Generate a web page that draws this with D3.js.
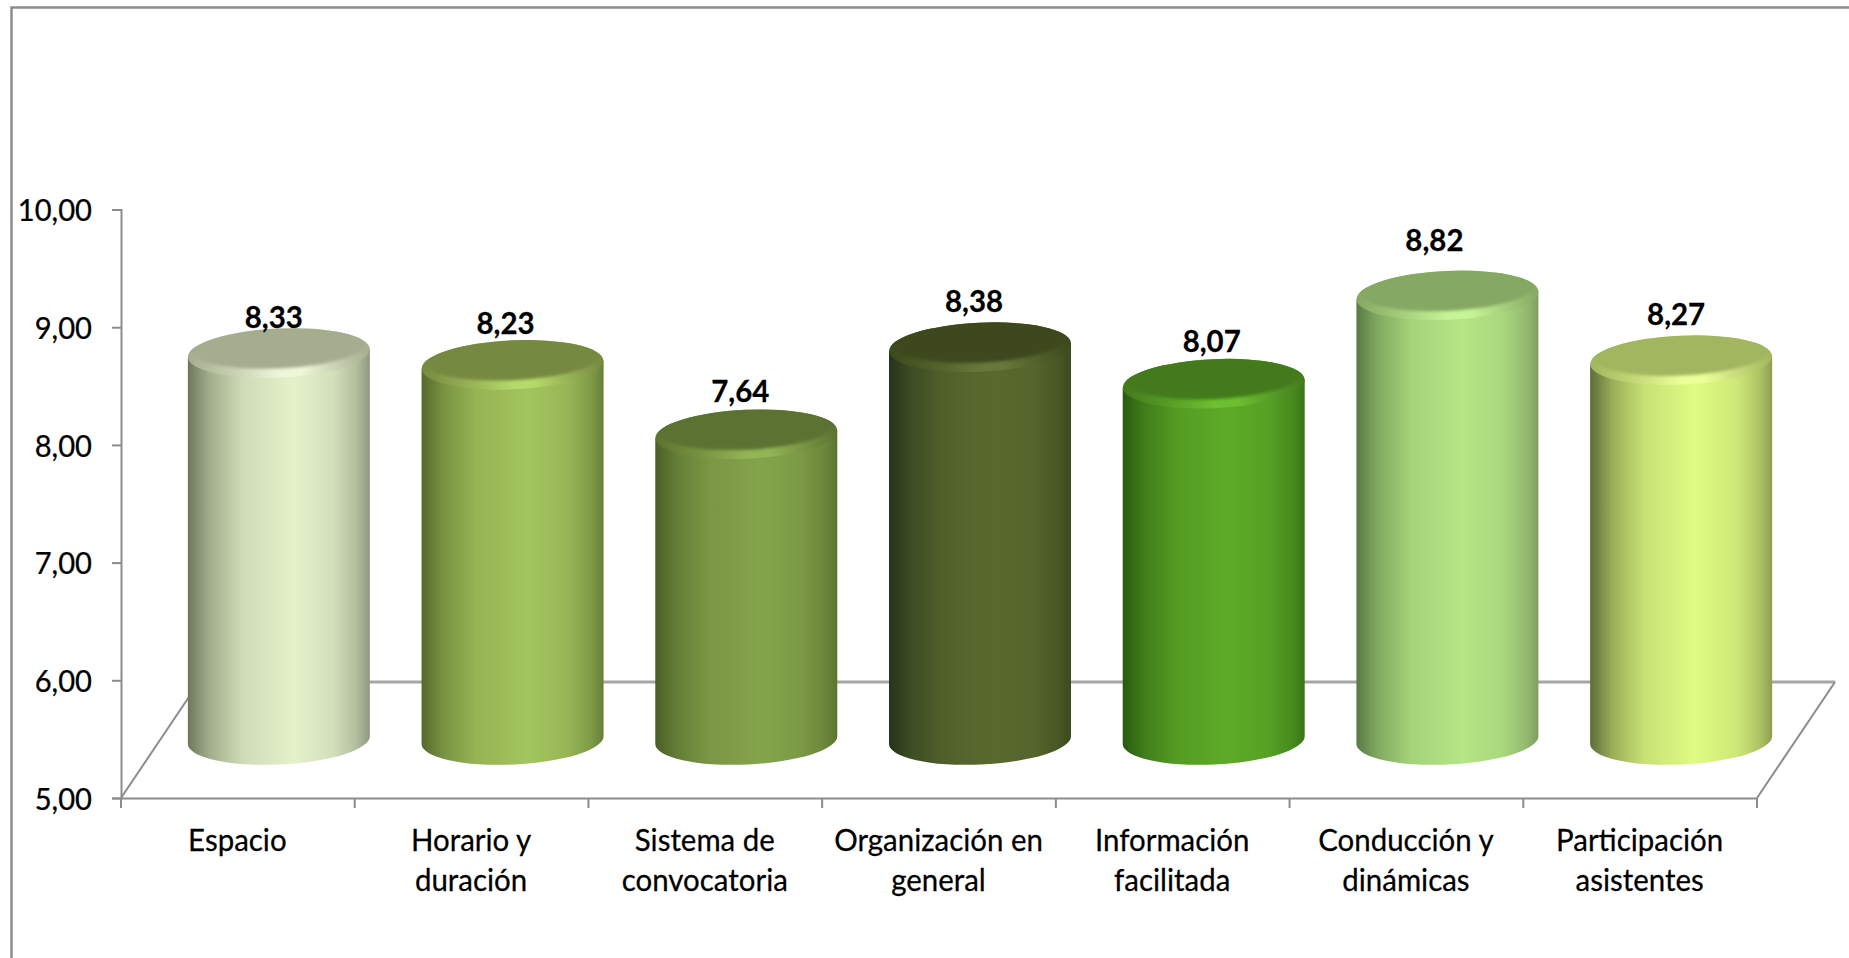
<!DOCTYPE html>
<html><head><meta charset="utf-8">
<script src="https://cdn.jsdelivr.net/npm/d3@7"></script>
<style>html,body{margin:0;padding:0;background:#fff;overflow:hidden}svg{display:block}
text{font-family:Lato,"Open Sans",sans-serif;fill:#000;stroke:#000;stroke-width:.25px;transform-box:fill-box;transform:scaleX(.95);transform-origin:center}
.tick text{transform:scaleX(.94);transform-origin:right center}</style>
</head><body><svg id="c" width="1849" height="958"></svg>
<script>
const categories=[["Espacio"],["Horario y","duración"],["Sistema de","convocatoria"],["Organización en","general"],["Información","facilitada"],["Conducción y","dinámicas"],["Participación","asistentes"]];
const values=[8.33,8.23,7.64,8.38,8.07,8.82,8.27];
const valueLabels=["8,33","8,23","7,64","8,38","8,07","8,82","8,27"];
const yTicks=[5,6,7,8,9,10];
const bright=["#e4f1c9","#a3c55d","#84a44b","#5a6a2e","#5dab27","#b5e685","#dffc82"];
const leftDark=["#6e775c","#55692c","#4b5e26","#26331a","#295a10","#587a44","#5f6c37"];
const rightDark=["#8f9880","#667f38","#5a7430","#3c4a1e","#3a7517","#7f9f61","#8f9e50"];
const topFill=["#a4ad8e","#76893f","#5c7230","#3c491c","#427a1c","#85a863","#a1b65e"];
const rimLight=["#eef6d8","#b5d96a","#94b555","#68783a","#6cc030","#c6f596","#ecff98"];
// manual placement of the value labels relative to their bars
const labelNudgeX=[1,-1,0,0,4,-7,1];
const labelNudgeY=[7,2,0,-3,1,-12,-3];

const axisX0=121,axisX1=1757,y0=798,y1=209.5;
const depthX=78,depthY=116,grey="#8c8c8c";
const svg=d3.select("#c");
const y=d3.scaleLinear().domain([5,10]).range([y0,y1]);
const idx=d3.range(categories.length);
const x=d3.scaleBand().domain(idx).range([axisX0,axisX1]);
const barW=182,rx=barW/2,ry=24.5,baseLift=58,topLift=53,shiftX=41,tiltDeg=-2.6;
const tiltDy=Math.sin(-tiltDeg*Math.PI/180)*rx;

const cx=i=>x(i)+x.bandwidth()/2+shiftX;
const topY=i=>y(values[i])-topLift;
const baseY=y(5)-baseLift;
const tilt=i=>`rotate(${tiltDeg} ${cx(i)} ${topY(i)})`;

const defs=svg.append("defs");
idx.forEach(i=>{
  const g=defs.append("linearGradient").attr("id","b"+i);
  [[0,leftDark[i]],[.12,d3.interpolateRgb(leftDark[i],bright[i])(.45)],[.3,d3.interpolateRgb(leftDark[i],bright[i])(.82)],[.58,bright[i]],[.8,d3.interpolateRgb(rightDark[i],bright[i])(.8)],[.93,d3.interpolateRgb(rightDark[i],bright[i])(.4)],[1,rightDark[i]]]
    .forEach(s=>g.append("stop").attr("offset",s[0]).attr("stop-color",s[1]));
  const r=defs.append("linearGradient").attr("id","r"+i);
  [[0,topFill[i]],[.5,rimLight[i]],[.62,rimLight[i]],[1,topFill[i]]]
    .forEach(s=>r.append("stop").attr("offset",s[0]).attr("stop-color",s[1]));
  defs.append("clipPath").attr("id","t"+i).append("ellipse").attr("cx",cx(i)).attr("cy",topY(i)).attr("rx",rx).attr("ry",ry);
});
const soft=defs.append("filter").attr("id","soft").attr("x","-5%").attr("y","-10%").attr("width","110%").attr("height","120%");
soft.append("feGaussianBlur").attr("stdDeviation",1.6);

// frame
svg.append("path").attr("d",`M11.5,958V7.5H1849`).attr("fill","none").attr("stroke",grey).attr("stroke-width",2.5);

// floor
const fl=svg.append("g").attr("fill","none");
fl.append("path").attr("stroke-width",3).attr("stroke","#a6a6a6").attr("d",`M${axisX0+depthX-8},${y0-depthY}H${axisX1+depthX}`);
fl.append("path").attr("stroke-width",2).attr("stroke",grey).attr("d",`M${axisX0},${y0}L${axisX0+depthX},${y0-depthY}`);
fl.append("path").attr("stroke-width",2).attr("stroke",grey).attr("d",`M${axisX1},${y0}L${axisX1+depthX},${y0-depthY}`);

// axes
const yAxis=svg.append("g").attr("transform",`translate(${axisX0},0)`).call(d3.axisLeft(y).tickValues(yTicks).tickSize(9).tickPadding(20).tickFormat(d=>d3.format(".2f")(d).replace(".",",")));
yAxis.selectAll("path,line").attr("stroke",grey).attr("stroke-width",2);
yAxis.selectAll("text").attr("font-size",31).attr("dy","0.36em");
const xAxis=svg.append("g").attr("transform",`translate(0,${y0})`).call(d3.axisBottom(x).tickSize(0).tickFormat(""));
xAxis.selectAll("path").attr("stroke",grey).attr("stroke-width",2);
d3.range(categories.length+1).forEach(i=>{
  const tx=axisX0+i*x.bandwidth();
  xAxis.append("line").attr("x1",tx).attr("x2",tx).attr("y1",0).attr("y2",10).attr("stroke",grey).attr("stroke-width",2);
});

// cylinders
const bars=svg.append("g").selectAll("g").data(idx).join("g");
bars.append("path").attr("fill",i=>`url(#b${i})`).attr("d",i=>{
  const c=cx(i),t=topY(i);
  return `M${c-rx},${t+tiltDy}L${c-rx},${baseY+tiltDy}A${rx},${ry} ${tiltDeg} 0 0 ${c+rx},${baseY-tiltDy}L${c+rx},${t-tiltDy}Z`;
});
bars.append("ellipse").attr("cx",cx).attr("cy",topY).attr("rx",rx).attr("ry",ry).attr("transform",tilt).attr("fill",i=>`url(#r${i})`);
bars.append("g").attr("transform",tilt).attr("clip-path",i=>`url(#t${i})`)
  .append("ellipse").attr("cx",cx).attr("cy",i=>topY(i)-7).attr("rx",rx-2).attr("ry",ry-2)
  .attr("fill",i=>topFill[i]).attr("filter","url(#soft)");

// value labels
svg.append("g").selectAll("text").data(idx).join("text")
  .attr("x",i=>x(i)+x.bandwidth()/2+35+labelNudgeX[i]).attr("y",i=>topY(i)-ry-8+labelNudgeY[i])
  .attr("text-anchor","middle").attr("font-size",31).attr("font-weight",700)
  .text(i=>valueLabels[i]);

// category labels
const cat=svg.append("g").selectAll("text").data(idx).join("text")
  .attr("text-anchor","middle").attr("font-size",31);
cat.each(function(i){
  const t=d3.select(this);
  categories[i].forEach((l,k)=>t.append("tspan").attr("x",x(i)+x.bandwidth()/2-.5).attr("y",851+k*40).text(l));
});
</script></body></html>
